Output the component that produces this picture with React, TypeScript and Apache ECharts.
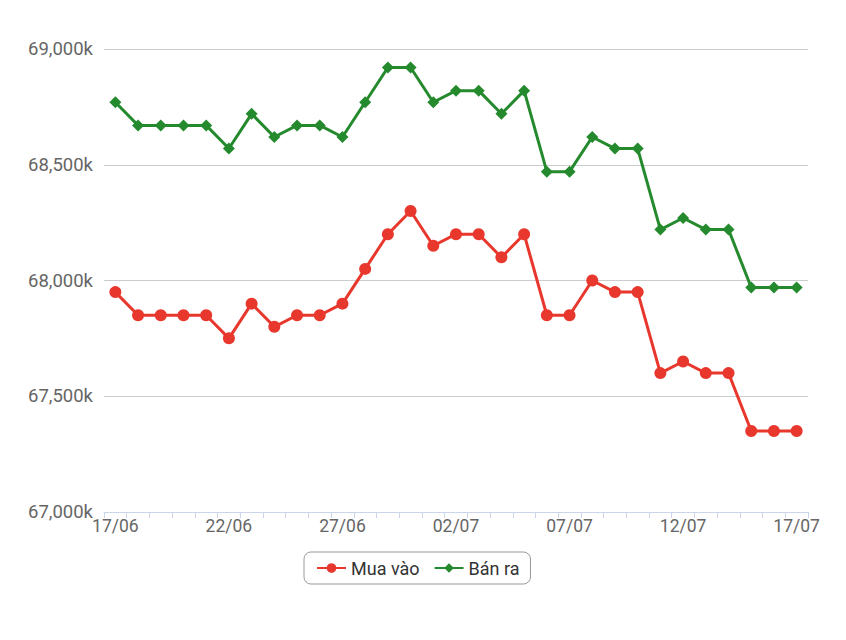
import React, { useEffect, useRef } from "react";
import * as echarts from "echarts";

const categories = [
  "17/06", "18/06", "19/06", "20/06", "21/06", "22/06", "23/06", "24/06", "25/06", "26/06",
  "27/06", "28/06", "29/06", "30/06", "01/07", "02/07", "03/07", "04/07", "05/07", "06/07",
  "07/07", "08/07", "09/07", "10/07", "11/07", "12/07", "13/07", "14/07", "15/07", "16/07", "17/07",
];

const muaVao = [
  67950, 67850, 67850, 67850, 67850, 67750, 67900, 67800, 67850, 67850,
  67900, 68050, 68200, 68300, 68150, 68200, 68200, 68100, 68200, 67850,
  67850, 68000, 67950, 67950, 67600, 67650, 67600, 67600, 67350, 67350, 67350,
];

const banRa = [
  68770, 68670, 68670, 68670, 68670, 68570, 68720, 68620, 68670, 68670,
  68620, 68770, 68920, 68920, 68770, 68820, 68820, 68720, 68820, 68470,
  68470, 68620, 68570, 68570, 68220, 68270, 68220, 68220, 67970, 67970, 67970,
];

const yMin = 67000;
const yMax = 69000;
const yStep = 500;

const RED = "#e8372c";
const GREEN = "#248a2d";
const FONT = "Roboto";

export default function App() {
  const ref = useRef<HTMLDivElement>(null);
  useEffect(() => {
    if (!ref.current) return;
    const chart = echarts.init(ref.current, undefined, { renderer: "svg" });
    chart.setOption({
      animation: false,
      textStyle: { fontFamily: FONT },
      grid: { left: 104, right: 38, top: 49, bottom: 128, containLabel: false },
      legend: {
        left: 304,
        top: 552,
        padding: [7, 11, 7, 12],
        borderColor: "#999",
        borderWidth: 1,
        borderRadius: 7,
        itemWidth: 29,
        itemHeight: 12,
        itemGap: 14,
        textStyle: { fontSize: 18, color: "#333", fontFamily: FONT },
        data: ["Mua vào", "Bán ra"],
      },
      xAxis: {
        type: "category",
        data: categories,
        boundaryGap: true,
        axisLine: { show: true, lineStyle: { color: "#ccd6eb", width: 1 } },
        axisTick: { show: true, interval: 0, length: 6, lineStyle: { color: "#ccd6eb" } },
        axisLabel: { interval: 4, color: "#666", fontSize: 17.5, margin: 5, fontFamily: FONT },
        splitLine: { show: false },
      },
      yAxis: {
        type: "value",
        min: yMin,
        max: yMax,
        interval: yStep,
        axisLine: { show: false },
        axisTick: { show: false },
        axisLabel: {
          color: "#666",
          fontSize: 18.5,
          margin: 11,
          fontFamily: FONT,
          formatter: (v: number) => v.toLocaleString("en-US") + "k",
        },
        splitLine: { lineStyle: { color: "#cccccc", width: 1 } },
      },
      series: [
        {
          name: "Mua vào",
          type: "line",
          data: muaVao,
          symbol: "circle",
          symbolSize: 12,
          itemStyle: { color: RED },
          lineStyle: { color: RED, width: 3 },
        },
        {
          name: "Bán ra",
          type: "line",
          data: banRa,
          symbol: "diamond",
          symbolSize: 12,
          itemStyle: { color: GREEN },
          lineStyle: { color: GREEN, width: 3 },
        },
      ],
    });
    return () => chart.dispose();
  }, []);
  return (
    <div
      ref={ref}
      style={{ position: "fixed", left: 0, top: 0, width: 846, height: 640, background: "#fff" }}
    />
  );
}
